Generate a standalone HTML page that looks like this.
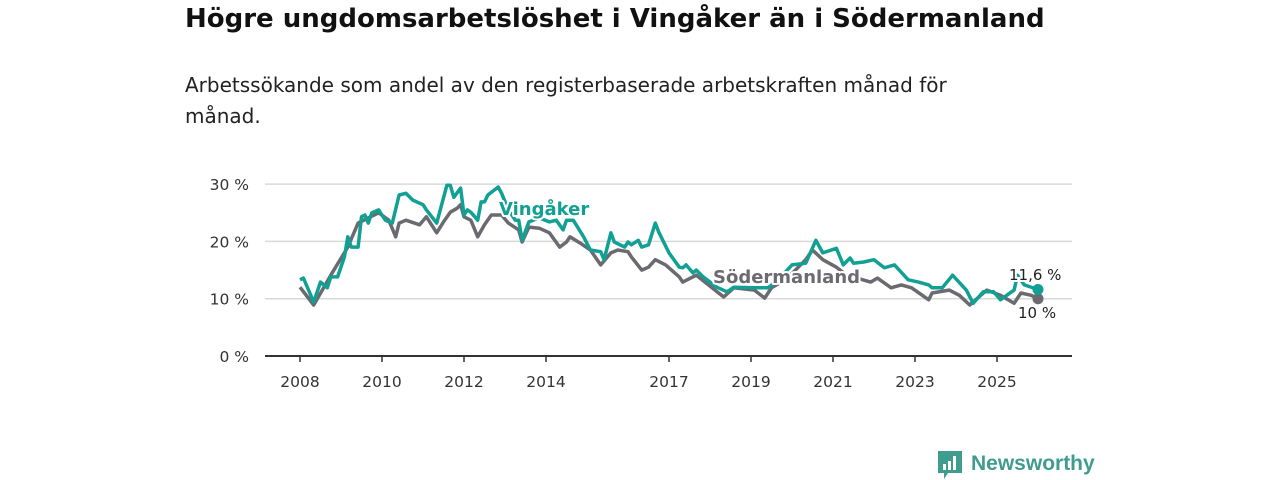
<!DOCTYPE html>
<html><head><meta charset="utf-8">
<style>
body{margin:0;background:#fff;width:1280px;height:480px;overflow:hidden;font-family:"DejaVu Sans","Liberation Sans",sans-serif;}
#title{position:absolute;left:185px;top:4px;font-size:26px;font-weight:bold;color:#111;margin:0;white-space:nowrap;}
#sub{position:absolute;left:185px;top:70px;font-size:20px;color:#222;line-height:31px;width:840px;margin:0;}
svg{position:absolute;left:0;top:0;font-family:"DejaVu Sans","Liberation Sans",sans-serif;}
</style></head><body>
<h1 id="title">Högre ungdomsarbetslöshet i Vingåker än i Södermanland</h1>
<p id="sub">Arbetssökande som andel av den registerbaserade arbetskraften månad för månad.</p>
<svg id="chart" width="1280" height="480"></svg>
<script>
const yTicks=[0,10,20,30];
const yTickLabels=["0 %","10 %","20 %","30 %"];
const xTickYears=[2008,2010,2012,2014,2017,2019,2021,2023,2025];
const sodMonths=[0,4,9,14,17,20,23,26,28,29,31,35,37,40,42,44,46,47,48,50,52,54,56,59,61,64,65,67,70,73,76,78,79,82,85,88,91,93,96,97,100,102,104,107,111,112,116,124,127,133,136,138,142,145,148,150,153,157,160,167,169,173,176,179,184,185,190,193,196,201,205,209,211,214,216];
const sodValues=[12.0,8.9,14.1,19.0,23.2,24.1,25.0,23.7,20.8,23.2,23.7,22.9,24.3,21.5,23.4,25.1,25.8,26.4,24.3,23.7,20.8,22.9,24.6,24.6,23.2,22.0,19.9,22.5,22.3,21.5,19.0,19.9,20.8,19.7,18.5,15.9,18.0,18.5,18.2,17.3,15.0,15.5,16.8,15.9,13.8,12.9,14.1,10.3,11.9,11.5,10.1,11.9,13.3,15.0,16.8,18.5,16.8,15.5,14.1,12.9,13.6,11.9,12.4,11.9,9.8,11.0,11.5,10.6,8.9,11.5,10.6,9.2,11.0,10.6,10.0];
const vinMonths=[0,1,4,6,8,9,11,13,14,15,17,18,19,20,21,23,25,27,29,31,33,36,37,40,43,44,45,47,48,49,50,52,53,54,55,58,59,61,63,64,65,67,70,73,75,77,78,80,83,85,88,89,91,92,95,96,97,99,100,102,104,105,108,111,112,113,115,116,118,122,125,127,133,137,140,144,148,151,153,157,159,161,162,165,168,171,174,178,181,184,185,188,191,195,197,200,203,205,209,210,212,216];
const vinValues=[13.3,13.6,9.4,12.9,11.9,13.8,13.8,17.3,20.8,19.0,19.0,24.3,24.6,23.2,25.0,25.5,23.7,23.2,28.1,28.4,27.2,26.4,25.5,23.2,29.8,29.8,27.7,29.3,24.6,25.5,25.1,23.7,26.9,26.9,28.1,29.5,28.4,25.5,23.7,23.7,20.2,23.4,24.1,23.4,23.7,22.0,23.7,23.7,20.8,18.5,18.2,16.8,21.5,19.9,19.0,19.9,19.4,20.2,19.0,19.4,23.2,21.6,18.0,15.5,15.4,15.9,14.5,15.0,13.8,12.0,11.2,12.0,11.9,11.9,13.3,15.9,16.2,20.2,18.0,18.8,15.9,17.1,16.2,16.4,16.8,15.4,15.9,13.3,12.9,12.4,11.9,11.9,14.1,11.5,9.2,11.2,11.2,9.8,11.5,14.1,12.4,11.6];
const svg=document.getElementById('chart');
const NS='http://www.w3.org/2000/svg';
const X0=265,X1=1072;
function xm(m){return 300+m*41/12;}
function xy(year){return xm((year-2008)*12);}
function yv(v){return 356-v*5.73;}
function mk(t,a,p){const e=document.createElementNS(NS,t);for(const k in a)e.setAttribute(k,a[k]);(p||svg).appendChild(e);return e;}
yTicks.forEach((t,i)=>{
  if(t>0){const g=mk('line',{x1:X0,x2:X1,y1:yv(t),y2:yv(t),stroke:'#d9d9d9','stroke-width':1.5});
  
  }
  const l=mk('text',{x:249,y:yv(t)+6,'text-anchor':'end','font-size':15.5,fill:'#333'});
  l.textContent=yTickLabels[i];
  
  
});
const ax=mk('line',{x1:X0,x2:X1,y1:356,y2:356,stroke:'#333','stroke-width':2});


xTickYears.forEach(yr=>{
  const x=xy(yr);
  const tk=mk('line',{x1:x,x2:x,y1:356,y2:362,stroke:'#333','stroke-width':1.5});
  
  
  const l=mk('text',{x:x,y:387,'text-anchor':'middle','font-size':15.5,fill:'#333'});
  l.textContent=yr;
  
  
});
function line(ms,vs,col,name){
  const d=ms.map((m,i)=>(i?'L':'M')+xm(m).toFixed(1)+','+yv(vs[i]).toFixed(1)).join('');
  const p=mk('path',{d:d,fill:'none',stroke:col,'stroke-width':3.5,'stroke-linejoin':'round'});
  
  
  const n=ms.length-1;
  const c=mk('circle',{cx:xm(ms[n]),cy:yv(vs[n]),r:5.5,fill:col});
  
  
}
line(sodMonths,sodValues,'#6b6a70','sodermanland-line');
line(vinMonths,vinValues,'#11a093','vingaker-line');
function lab(txt,x,y,col,fs,bold,name){
  const t=mk('text',{x:x,y:y,'font-size':fs,fill:col,'font-weight':bold?'bold':'normal',stroke:'#fff','stroke-width':4,'paint-order':'stroke','stroke-linejoin':'round'});
  t.textContent=txt;
  
  
}
lab('Vingåker',499,215,'#11a093',18,true,'vingaker-label');
lab('Södermanland',713,283,'#6b6a70',18,true,'sodermanland-label');
lab('11,6 %',1009,280,'#222',15,false,'vingaker-end-value');
lab('10 %',1018,318,'#222',15,false,'sodermanland-end-value');
const lg=mk('g',{});


mk('path',{d:'M938,451 h24 v22 h-14 l-4,6 v-6 h-6 z',fill:'#3f9c8f'},lg);
mk('rect',{x:943,y:464,width:3,height:6,fill:'#fff'},lg);
mk('rect',{x:948,y:461,width:3,height:9,fill:'#fff'},lg);
mk('rect',{x:953,y:456,width:3,height:14,fill:'#fff'},lg);
const lt=mk('text',{x:971,y:470,'font-size':21,fill:'#3f9c8f','font-weight':'bold','font-family':'Liberation Sans, sans-serif'},lg);
lt.textContent='Newsworthy';
</script>
</body></html>
